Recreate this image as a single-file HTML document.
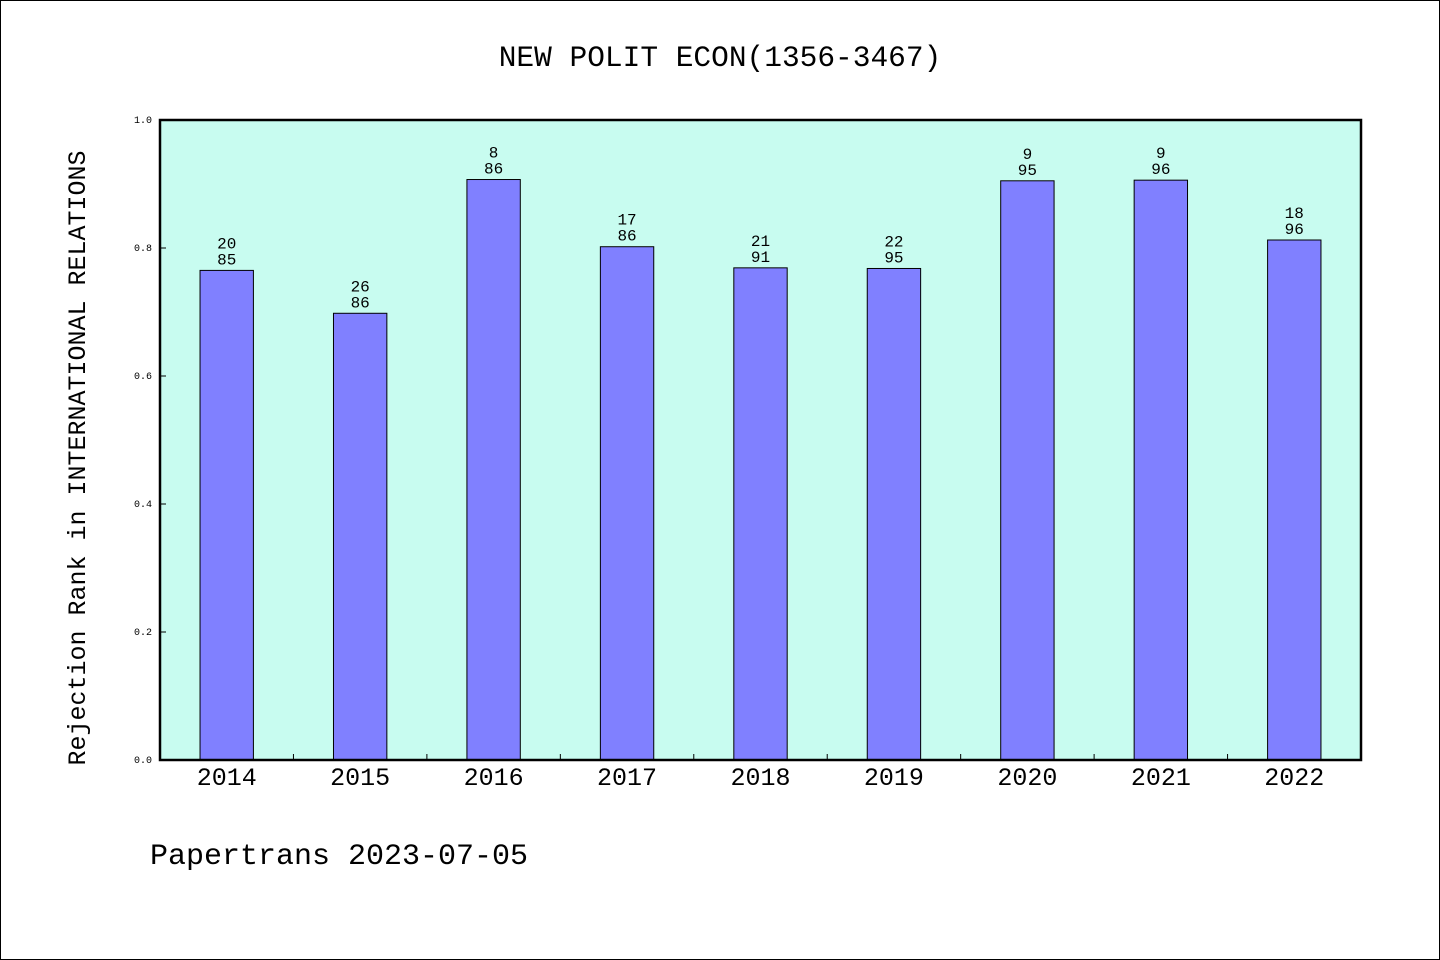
<!DOCTYPE html>
<html><head><meta charset="utf-8"><style>
body{margin:0;background:#fff}
svg{display:block}
text{font-family:"Liberation Mono","WenQuanYi Zen Hei",monospace;fill:#000}
</style></head><body>
<svg id="chart" width="1440" height="960" viewBox="0 0 1440 960" xmlns="http://www.w3.org/2000/svg">
<rect x="0.5" y="0.5" width="1439" height="959" fill="#fff" stroke="#000"/>
<text x="720" y="66" font-size="29.5" text-anchor="middle">NEW POLIT ECON(1356-3467)</text>
<rect x="160" y="120" width="1201" height="640" fill="#c8fcf0"/>
<g id="bars"></g>
<g id="axes"></g>
<rect x="160" y="120" width="1201" height="640" fill="none" stroke="#000" stroke-width="2.5"/>
<text transform="translate(85,458) rotate(-90)" font-size="25" text-anchor="middle">Rejection Rank in INTERNATIONAL RELATIONS</text>
<text x="150" y="864" font-size="30">Papertrans 2023-07-05</text>
</svg>
<script>
const categories=["2014","2015","2016","2017","2018","2019","2020","2021","2022"];
const values=[0.765,0.698,0.907,0.802,0.769,0.768,0.905,0.906,0.8125];
const rankLabels=["20","26","8","17","21","22","9","9","18"];
const totalLabels=["85","86","86","86","91","95","95","96","96"];
const yTicks=[0,0.2,0.4,0.6,0.8,1.0];
const yTickLabels=["0.0","0.2","0.4","0.6","0.8","1.0"];
const NS="http://www.w3.org/2000/svg";
const L=160,R=1361,T=120,B=760;
const bw=(R-L)/categories.length;
function x(i){return L+bw*(i+0.5);}
function y(v){return B-(B-T)*v;}
function mk(tag,attrs,parent,txt){const e=document.createElementNS(NS,tag);for(const k in attrs)e.setAttribute(k,attrs[k]);if(txt!==undefined)e.textContent=txt;parent.appendChild(e);return e;}
const gb=document.getElementById('bars'),ga=document.getElementById('axes');
categories.forEach((c,i)=>{
  const w=bw*0.4;
  const r=mk('rect',{x:x(i)-w/2,y:y(values[i]),width:w,height:B-y(values[i]),fill:'#8080ff',stroke:'#000','stroke-width':1},gb);
  
  
  const t1=mk('text',{x:x(i),y:y(values[i])-22,'font-size':16,'text-anchor':'middle'},gb,rankLabels[i]);
  
  
  const t2=mk('text',{x:x(i),y:y(values[i])-6,'font-size':16,'text-anchor':'middle'},gb,totalLabels[i]);
  
  
  const xl=mk('text',{x:x(i),y:785,'font-size':25,'text-anchor':'middle'},ga,c);
  
  
  if(i>0){const tk=mk('line',{x1:L+bw*i,x2:L+bw*i,y1:B,y2:B-6,stroke:'#000'},ga);
  
  }
});
yTicks.forEach((v,i)=>{
  const tk=mk('line',{x1:L,x2:L+6,y1:y(v),y2:y(v),stroke:'#000'},ga);
  
  
  const tl=mk('text',{x:152,y:y(v)+3,'font-size':10,'text-anchor':'end'},ga,yTickLabels[i]);
  
  
});
</script>
</body></html>
